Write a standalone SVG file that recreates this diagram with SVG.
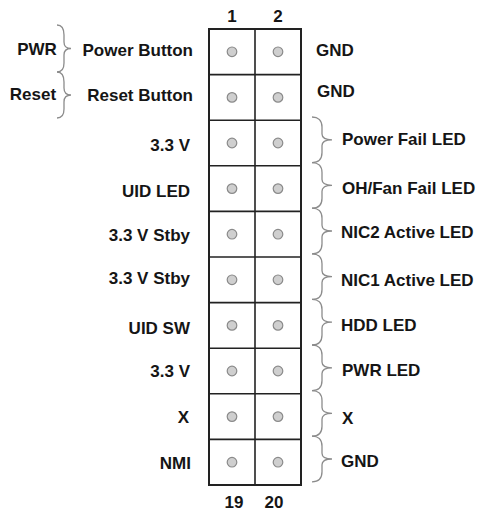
<svg xmlns="http://www.w3.org/2000/svg" width="487" height="512" viewBox="0 0 487 512">
<style>
text{font-family:"Liberation Sans",Arial,sans-serif;font-weight:bold;font-size:17px;fill:#151515}
.l{text-anchor:end}
.c{text-anchor:middle}
.pin{fill:#cfcfcf;stroke:#8a8a8a;stroke-width:1.2}
.br{fill:none;stroke:#8c8c8c;stroke-width:1.3}
.grid{fill:none;stroke:#222;stroke-width:2}
.gl{stroke:#222;stroke-width:1.6}
</style>
<defs>
<path id="rb" class="br" d="M0,0 C6,0 10,3 10,10 L10,17 C10,20 12,22.8 20,22.8 C12,22.8 10,25.6 10,28.6 L10,35.6 C10,42.6 6,45.6 0,45.6"/>
<circle id="p" class="pin" r="4.8"/>
</defs>
<rect width="487" height="512" fill="#fff"/>
<g id="header">
<rect class="grid" x="209" y="29" width="92" height="456"/>
<line class="gl" x1="255" y1="29" x2="255" y2="485"/>
<line class="gl" x1="209" y1="74.6" x2="301" y2="74.6"/>
<line class="gl" x1="209" y1="120.2" x2="301" y2="120.2"/>
<line class="gl" x1="209" y1="165.8" x2="301" y2="165.8"/>
<line class="gl" x1="209" y1="211.4" x2="301" y2="211.4"/>
<line class="gl" x1="209" y1="257" x2="301" y2="257"/>
<line class="gl" x1="209" y1="302.6" x2="301" y2="302.6"/>
<line class="gl" x1="209" y1="348.2" x2="301" y2="348.2"/>
<line class="gl" x1="209" y1="393.8" x2="301" y2="393.8"/>
<line class="gl" x1="209" y1="439.4" x2="301" y2="439.4"/>
<text class="c" x="232" y="22">1</text>
<text class="c" x="278" y="22">2</text>
<text class="c" x="234" y="508">19</text>
<text class="c" x="274" y="508">20</text>
</g>
<g id="pins">
<use href="#p" x="232" y="51.8"/><use href="#p" x="278" y="51.8"/>
<use href="#p" x="232" y="97.4"/><use href="#p" x="278" y="97.4"/>
<use href="#p" x="232" y="143"/><use href="#p" x="278" y="143"/>
<use href="#p" x="232" y="188.6"/><use href="#p" x="278" y="188.6"/>
<use href="#p" x="232" y="234.2"/><use href="#p" x="278" y="234.2"/>
<use href="#p" x="232" y="279.8"/><use href="#p" x="278" y="279.8"/>
<use href="#p" x="232" y="325.4"/><use href="#p" x="278" y="325.4"/>
<use href="#p" x="232" y="371"/><use href="#p" x="278" y="371"/>
<use href="#p" x="232" y="416.6"/><use href="#p" x="278" y="416.6"/>
<use href="#p" x="232" y="462.2"/><use href="#p" x="278" y="462.2"/>
</g>
<g id="left-labels">
<text x="37" y="55" class="c">PWR</text>
<text x="33" y="100" class="c">Reset</text>
<text class="l" x="193" y="55.7">Power Button</text>
<text class="l" x="193" y="100.5">Reset Button</text>
<text class="l" x="190" y="150.5">3.3 V</text>
<text class="l" x="190" y="197">UID LED</text>
<text class="l" x="190" y="240.5">3.3 V Stby</text>
<text class="l" x="190" y="284">3.3 V Stby</text>
<text class="l" x="190" y="334">UID SW</text>
<text class="l" x="190" y="377">3.3 V</text>
<text class="l" x="189" y="423">X</text>
<text class="l" x="191" y="469">NMI</text>
</g>
<g id="right-labels">
<text x="316" y="56">GND</text>
<text x="317" y="97">GND</text>
<text x="342" y="144.5">Power Fail LED</text>
<text x="342" y="193.5">OH/Fan Fail LED</text>
<text x="341" y="237.5">NIC2 Active LED</text>
<text x="341" y="285.5">NIC1 Active LED</text>
<text x="341" y="331">HDD LED</text>
<text x="342" y="375.5">PWR LED</text>
<text x="342" y="423.5">X</text>
<text x="341" y="467">GND</text>
</g>
<g id="connectors">
<path class="br" d="M57,25 C62,25 64,28 64,35 L64,42 C64,46 66,48.5 71,48.5 C66,48.5 64,51 64,55 L64,63 C64,69 62,72 57,72"/>
<path class="br" d="M57,72 C62,72 64,75 64,82 L64,88 C64,92 66,95 71,95 C66,95 64,98 64,102 L64,109 C64,115 62,118 57,118"/>
<use href="#rb" transform="translate(312,117)"/>
<use href="#rb" transform="translate(312,162.6)"/>
<use href="#rb" transform="translate(312,208.2)"/>
<use href="#rb" transform="translate(312,253.8)"/>
<use href="#rb" transform="translate(312,299.4)"/>
<use href="#rb" transform="translate(312,345)"/>
<use href="#rb" transform="translate(312,390.6)"/>
<use href="#rb" transform="translate(312,436.2)"/>
</g>
</svg>
